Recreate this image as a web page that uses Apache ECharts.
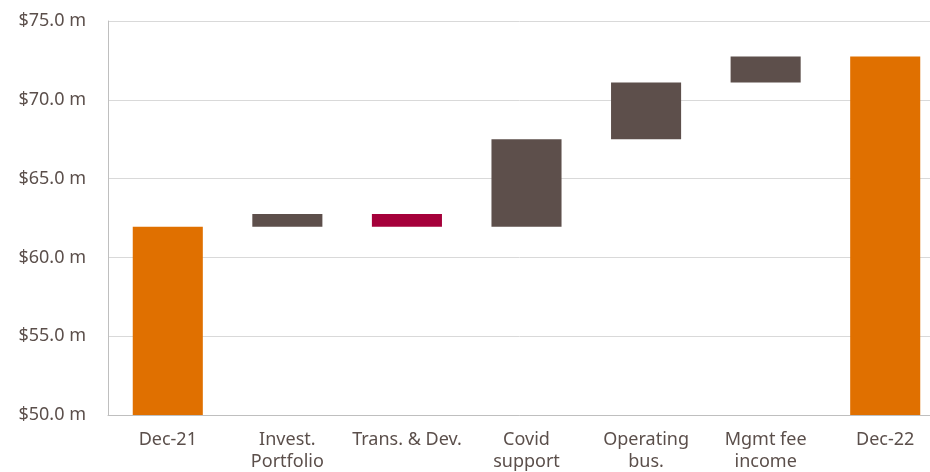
<!DOCTYPE html>
<html>
<head>
<meta charset="utf-8">
<script src="https://cdn.jsdelivr.net/npm/echarts@6/dist/echarts.min.js"></script>
<style>
  html, body { margin: 0; padding: 0; background: #fff; }
  #chart { width: 930px; height: 472px; }
</style>
</head>
<body>
<div id="chart"></div>
<script>
// bridge categories and values ($ m)
const categories = ['Dec-21', 'Invest.\nPortfolio', 'Trans. & Dev.', 'Covid\nsupport', 'Operating\nbus.', 'Mgmt fee\nincome', 'Dec-22'];
const startValue = 61.95;
const changes = [0.8, -0.8, 5.55, 3.6, 1.65];
const endValue = 72.75;
const yTicks = { min: 50, max: 75, interval: 5 };

const ORANGE = '#E07000';
const BROWN = '#5D4F4B';
const RED = '#A5003A';

// build floating bars: invisible base + visible part
let base = ['-'];
let shown = [{ value: startValue - yTicks.min, itemStyle: { color: ORANGE } }];
let running = startValue;
changes.forEach(function (d) {
  let lo = d >= 0 ? running : running + d;
  base.push(lo - yTicks.min);
  shown.push({ value: Math.abs(d), itemStyle: { color: d >= 0 ? BROWN : RED } });
  running += d;
});
base.push('-');
shown.push({ value: endValue - yTicks.min, itemStyle: { color: ORANGE } });

let chart = echarts.init(document.getElementById('chart'));
chart.setOption({
  animation: false,
  textStyle: { fontFamily: '"Noto Sans", sans-serif' },
  grid: { left: 108, width: 837, top: 21, height: 394, outerBoundsMode: 'none' },
  xAxis: {
    type: 'category',
    data: categories,
    axisLine: { lineStyle: { color: '#bfbfbf' } },
    axisTick: { show: false },
    axisLabel: { color: '#5b4f4b', fontSize: 18, lineHeight: 22, margin: 14, interval: 0 }
  },
  yAxis: {
    type: 'value',
    min: 0,
    max: yTicks.max - yTicks.min,
    interval: yTicks.interval,
    axisLine: { show: true, lineStyle: { color: '#bfbfbf' } },
    splitLine: { lineStyle: { color: '#d9d9d9' } },
    axisLabel: {
      color: '#5b4f4b', fontSize: 18, margin: 22,
      formatter: function (v) { return '$' + (v + yTicks.min).toFixed(1) + ' m'; }
    }
  },
  series: [
    {
      type: 'bar', stack: 'w', barWidth: '58.6%', silent: true,
      itemStyle: { color: 'transparent' },
      data: base
    },
    {
      type: 'bar', stack: 'w', barWidth: '58.6%',
      data: shown
    }
  ]
});
</script>
</body>
</html>
